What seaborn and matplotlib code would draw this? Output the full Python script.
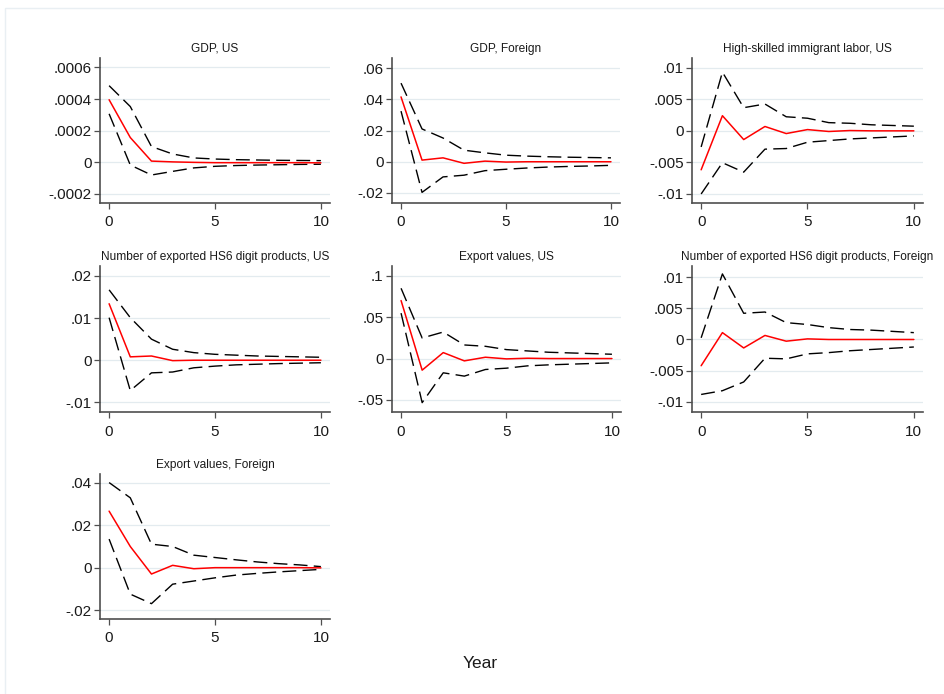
import numpy as np
import pandas as pd
import matplotlib
matplotlib.use("Agg")
import matplotlib.pyplot as plt
from matplotlib.patches import Rectangle
from matplotlib.ticker import FixedLocator, FuncFormatter
import seaborn as sns

# Impulse responses (point estimate with upper / lower confidence bands), years 0..10
years = list(range(11))

titles = [
    "GDP, US",
    "GDP, Foreign",
    "High-skilled immigrant labor, US",
    "Number of exported HS6 digit products, US",
    "Export values, US",
    "Number of exported HS6 digit products, Foreign",
    "Export values, Foreign",
]

irf_gdp_us = [0.000396, 0.000157, 0.000008, 0.000003, 0.0, -0.000002, -0.000002, -0.000002, -0.000002, -0.000002, -0.000003]
up_gdp_us = [0.000485, 0.000353, 0.0001, 0.000053, 0.000028, 0.000021, 0.000017, 0.000015, 0.000013, 0.000012, 0.000011]
lo_gdp_us = [0.000307, -0.000017, -0.00008, -0.000057, -0.000035, -0.000025, -0.00002, -0.000017, -0.000015, -0.000013, -0.000012]

irf_gdp_f = [0.0415, 0.00105, 0.0025, -0.001, 0.0004, -0.0002, 0.0, 0.0, 0.0, 0.0, 0.0]
up_gdp_f = [0.0503, 0.021, 0.0152, 0.0074, 0.0057, 0.0042, 0.0036, 0.0032, 0.0029, 0.0027, 0.0025]
lo_gdp_f = [0.0324, -0.0196, -0.0097, -0.0086, -0.0057, -0.0048, -0.004, -0.0034, -0.003, -0.0027, -0.0023]

irf_lab = [-0.00617, 0.0024, -0.00138, 0.00069, -0.00043, 0.0002, -0.0001, 0.00005, 0.0, 0.0, 0.0]
up_lab = [-0.00255, 0.0093, 0.00367, 0.00425, 0.00223, 0.002, 0.0013, 0.0012, 0.00096, 0.00085, 0.00074]
lo_lab = [-0.01, -0.00505, -0.00654, -0.0029, -0.0028, -0.0018, -0.00154, -0.00128, -0.00112, -0.00096, -0.0008]

irf_hs6_us = [0.0134, 0.0008, 0.001, -0.0001, 0.0, 0.0, 0.0, 0.0, 0.0, 0.0, 0.0]
up_hs6_us = [0.0167, 0.0101, 0.005, 0.0026, 0.0018, 0.0014, 0.0012, 0.001, 0.0009, 0.0008, 0.0007]
lo_hs6_us = [0.0101, -0.0072, -0.003, -0.0028, -0.0018, -0.0014, -0.0011, -0.00095, -0.0008, -0.0007, -0.0006]

irf_exp_us = [0.07, -0.014, 0.0072, -0.0028, 0.0016, -0.0004, 0.0004, 0.0, 0.0, 0.0, 0.0]
up_exp_us = [0.0848, 0.0248, 0.032, 0.0164, 0.0148, 0.0108, 0.0092, 0.0076, 0.0068, 0.006, 0.0052]
lo_exp_us = [0.0548, -0.0532, -0.0172, -0.0212, -0.0132, -0.0116, -0.0088, -0.0076, -0.0068, -0.006, -0.0052]

irf_hs6_f = [-0.0042, 0.0011, -0.00135, 0.00065, -0.00027, 0.0001, 0.0, 0.0, 0.0, 0.0, 0.0]
up_hs6_f = [0.00027, 0.0105, 0.0042, 0.0044, 0.0027, 0.0024, 0.0019, 0.0016, 0.0015, 0.0013, 0.0011]
lo_hs6_f = [-0.0088, -0.0082, -0.0068, -0.003, -0.0031, -0.0023, -0.0021, -0.0018, -0.0016, -0.0014, -0.0012]

irf_exp_f = [0.0267, 0.01, -0.003, 0.0011, -0.0005, 0.0, 0.0, 0.0, 0.0, 0.0, -0.0001]
up_exp_f = [0.0402, 0.033, 0.0111, 0.01, 0.0059, 0.0048, 0.0037, 0.0027, 0.0019, 0.0013, 0.0005]
lo_exp_f = [0.0135, -0.0125, -0.017, -0.0078, -0.0063, -0.0048, -0.0035, -0.0027, -0.002, -0.0014, -0.0008]

series = [
    (irf_gdp_us, up_gdp_us, lo_gdp_us),
    (irf_gdp_f, up_gdp_f, lo_gdp_f),
    (irf_lab, up_lab, lo_lab),
    (irf_hs6_us, up_hs6_us, lo_hs6_us),
    (irf_exp_us, up_exp_us, lo_exp_us),
    (irf_hs6_f, up_hs6_f, lo_hs6_f),
    (irf_exp_f, up_exp_f, lo_exp_f),
]

yticks = [
    [-0.0002, 0, 0.0002, 0.0004, 0.0006],
    [-0.02, 0, 0.02, 0.04, 0.06],
    [-0.01, -0.005, 0, 0.005, 0.01],
    [-0.01, 0, 0.01, 0.02],
    [-0.05, 0, 0.05, 0.1],
    [-0.01, -0.005, 0, 0.005, 0.01],
    [-0.02, 0, 0.02, 0.04],
]
ylims = [
    (-0.000257, 0.00066),
    (-0.0264, 0.0664),
    (-0.01143, 0.01154),
    (-0.01229, 0.02236),
    (-0.0645, 0.1117),
    (-0.01161, 0.01177),
    (-0.02425, 0.04425),
]
xticks = [0, 5, 10]

sns.set_style("white")
plt.rcParams["font.family"] = ["Liberation Sans", "DejaVu Sans"]

W, H = 945, 694
fig = plt.figure(figsize=(W / 100, H / 100), dpi=100)
fig.patch.set_facecolor("white")

# faint outer frame of the graph region
fig.patches.append(Rectangle((5 / W, -0.1), 1.2, 1 - 8 / H + 0.1,
                             transform=fig.transFigure, fill=False,
                             edgecolor="#e9eff3", linewidth=1.0))

# panel boxes in pixels: left, right, top, bottom
boxes = [
    (100, 330, 58, 203),
    (392, 620, 58, 203),
    (692, 923, 58, 203),
    (100, 330, 266, 412),
    (392, 621, 266, 412),
    (692, 923, 266, 412),
    (100, 330, 474, 619),
]


def stata_fmt(v, pos=None):
    if abs(v) < 1e-12:
        return "0"
    s = f"{v:g}"
    return s.replace("0.", ".", 1) if s.startswith(("0.", "-0.")) else s


axis_col = "#4f4f4f"
for i, (l, r, t, b) in enumerate(boxes):
    ax = fig.add_axes([l / W, 1 - b / H, (r - l) / W, (b - t) / H])
    irf, up, lo = series[i]
    df = pd.DataFrame({
        "Year": years * 3,
        "value": list(up) + list(lo) + list(irf),
        "line": ["upper"] * 11 + ["lower"] * 11 + ["irf"] * 11,
    })
    for ytk in yticks[i]:
        ax.axhline(ytk, color="#e3ebef", linewidth=0.9, zorder=0)
    for name in ["upper", "lower"]:
        sns.lineplot(data=df[df["line"] == name], x="Year", y="value", ax=ax,
                     color="black", linewidth=1.0, dashes=False, zorder=2)
        ax.lines[-1].set_dashes((10, 4.5))
    sns.lineplot(data=df[df["line"] == "irf"], x="Year", y="value", ax=ax,
                 color="#ff0000", linewidth=1.1, zorder=3)

    ax.set_xlim(-0.43, 10.43)
    ax.set_ylim(*ylims[i])
    ax.xaxis.set_major_locator(FixedLocator(xticks))
    ax.yaxis.set_major_locator(FixedLocator(yticks[i]))
    ax.yaxis.set_major_formatter(FuncFormatter(stata_fmt))
    ax.set_xlabel("")
    ax.set_ylabel("")
    ax.grid(False)
    for side in ["top", "right"]:
        ax.spines[side].set_visible(False)
    for side in ["left", "bottom"]:
        ax.spines[side].set_color(axis_col)
        ax.spines[side].set_linewidth(1.2)
    ax.tick_params(axis="both", direction="out", length=4.5, width=0.9,
                   color=axis_col, labelsize=11, labelcolor="#1a1a1a")
    ax.tick_params(axis="y", pad=1.5)
    ax.tick_params(axis="x", pad=4.5)
    ax.tick_params(left=True, bottom=True)
    ax.set_title(titles[i], fontsize=8.6, color="#1a1a1a", pad=4.5)
    ax.set_facecolor("white")

fig.text(480 / W, 1 - 663 / H, "Year", ha="center", va="center",
         fontsize=12.5, color="#1a1a1a")

fig.savefig("out.png", dpi=100, facecolor="white")
